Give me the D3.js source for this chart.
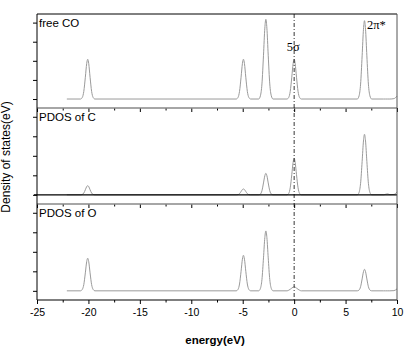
<!DOCTYPE html>
<html>
<head>
<meta charset="utf-8">
<script src="https://cdn.jsdelivr.net/npm/d3@7"></script>
<style>
  body { margin: 0; background: #fff; }
  svg { display: block; font-family: "Liberation Sans", Arial, sans-serif; }
</style>
</head>
<body>
<div id="chart"></div>
<script>
// shared energy grid (eV)
const energy = [
  -22.1,
  -20.77, -20.6, -20.45, -20.3, -20.17, -20.07, -19.97, -19.84, -19.69, -19.54, -19.37,
  -5.63, -5.46, -5.31, -5.16, -5.03, -4.93, -4.83, -4.70, -4.55, -4.40, -4.23,
  -3.45, -3.28, -3.13, -2.98, -2.85, -2.75, -2.65, -2.52, -2.37, -2.22, -2.05,
  -0.7, -0.53, -0.38, -0.23, -0.1, 0, 0.1, 0.23, 0.38, 0.53, 0.7,
  6.14, 6.31, 6.46, 6.61, 6.74, 6.84, 6.94, 7.07, 7.22, 7.37, 7.54,
  8.7, 8.9, 9.1, 9.3, 9.7, 10
];

const freeCO = [
  0,
  0, .08, .40, 1.14, 1.85, 2.08, 1.85, 1.14, .40, .08, 0,
  0, .08, .40, 1.14, 1.85, 2.08, 1.85, 1.14, .40, .08, 0,
  0, .17, .79, 2.29, 3.71, 4.17, 3.71, 2.29, .79, .17, 0,
  0, .08, .40, 1.14, 1.85, 2.08, 1.85, 1.14, .40, .08, 0,
  0, .16, .78, 2.26, 3.65, 4.1, 3.65, 2.26, .78, .16, 0,
  0, 0, 0, 0, .02, .15
];

const pdosC = [
  0,
  0, .02, .09, .26, .42, .47, .42, .26, .09, .02, 0,
  0, .01, .06, .17, .27, .3, .27, .17, .06, .01, 0,
  0, .04, .21, .61, .98, 1.1, .98, .61, .21, .04, 0,
  0, .07, .36, 1.03, 1.66, 1.87, 1.66, 1.03, .36, .07, 0,
  0, .12, .59, 1.71, 2.76, 3.1, 2.76, 1.71, .59, .12, 0,
  0, .03, .05, .01, .02, .15
];

const pdosO = [
  0,
  0, .07, .32, .92, 1.49, 1.67, 1.49, .92, .32, .07, 0,
  0, .07, .35, 1.0, 1.62, 1.82, 1.62, 1.0, .35, .07, 0,
  0, .12, .58, 1.69, 2.73, 3.07, 2.73, 1.69, .58, .12, 0,
  0, .03, .08, .14, .19, .21, .19, .14, .08, .03, 0,
  0, .04, .21, .61, .98, 1.1, .98, .61, .21, .04, 0,
  0, 0, 0, 0, .01, .1
];

const panelNames = ["free CO", "PDOS of C", "PDOS of O"];
const xTicks = [-25, -20, -15, -10, -5, 0, 5, 10];
const xMinorTicks = [-22.5, -17.5, -12.5, -7.5, -2.5, 2.5, 7.5];
const yTicks = [0, 1, 2, 3, 4];

const W = 411, H = 351;
const left = 37, right = 397;
const panels = [
  { top: 14, bottom: 108, values: freeCO },
  { top: 108, bottom: 204, values: pdosC },
  { top: 204, bottom: 300, values: pdosO }
];

const svg = d3.select("#chart").append("svg")
  .attr("width", W)
  .attr("height", H);

const x = d3.scaleLinear().domain([-25, 10]).range([left, right]);

panels.forEach((p, i) => {
  const y = d3.scaleLinear().domain([-0.47, 4.45]).range([p.bottom, p.top]);
  const pts = energy.map((e, k) => [e, p.values[k]]);

  const line = d3.line()
    .x(d => x(d[0]))
    .y(d => y(d[1]))
    .curve(d3.curveMonotoneX);

  svg.append("path")
    .datum(pts)
    .attr("d", line)
    .attr("fill", "none")
    .attr("stroke", "#9a9a9a")
    .attr("stroke-width", 1);

  // left ticks
  svg.append("g")
    .attr("transform", `translate(${left},0)`)
    .call(d3.axisLeft(y).tickValues(yTicks).tickSize(4).tickFormat(""))
    .call(g => g.select(".domain").remove())
    .call(g => g.selectAll("line").attr("stroke", "#000"));

  // tick marks along the panel bottom
  const isLast = i === panels.length - 1;
  svg.append("g")
    .attr("transform", `translate(0,${p.bottom})`)
    .call(d3.axisBottom(x).tickValues(xTicks).tickSize(4).tickFormat(isLast ? d => d : ""))
    .call(g => g.select(".domain").remove())
    .call(g => g.selectAll("line").attr("stroke", "#000"))
    .call(g => g.selectAll("text")
      .attr("font-size", 10.5)
      .attr("font-family", "Liberation Sans, Arial, sans-serif")
      .attr("fill", "#000")
      .attr("dy", "0.85em"));

  svg.append("g")
    .attr("transform", `translate(0,${p.bottom})`)
    .call(d3.axisBottom(x).tickValues(xMinorTicks).tickSize(2.5).tickFormat(""))
    .call(g => g.select(".domain").remove())
    .call(g => g.selectAll("line").attr("stroke", "#000"));

  svg.append("text")
    .attr("x", left + 2)
    .attr("y", p.top + 13)
    .attr("font-size", 11.5)
    .attr("fill", "#000")
    .text(panelNames[i]);

  if (i === 1) {
    // black zero line of the C panel
    svg.append("line")
      .attr("x1", left - 3).attr("x2", right)
      .attr("y1", y(0)).attr("y2", y(0))
      .attr("stroke", "#000")
      .attr("stroke-width", 1.2);
  }
});

// separators between panels
[108, 204].forEach(yy => {
  svg.append("line")
    .attr("x1", left).attr("x2", right)
    .attr("y1", yy).attr("y2", yy)
    .attr("stroke", "#888")
    .attr("stroke-width", 1.5);
});

// outer frame
svg.append("line").attr("x1", left).attr("x2", right).attr("y1", 14).attr("y2", 14)
  .attr("stroke", "#000").attr("stroke-width", 1);
svg.append("line").attr("x1", left).attr("x2", right).attr("y1", 300).attr("y2", 300)
  .attr("stroke", "#000").attr("stroke-width", 1.2);
svg.append("line").attr("x1", left).attr("x2", left).attr("y1", 14).attr("y2", 300)
  .attr("stroke", "#000").attr("stroke-width", 1);
svg.append("line").attr("x1", right).attr("x2", right).attr("y1", 14).attr("y2", 300)
  .attr("stroke", "#555").attr("stroke-width", 1);

// Fermi level dash-dot line
svg.append("line")
  .attr("x1", x(0)).attr("x2", x(0))
  .attr("y1", 14).attr("y2", 300)
  .attr("stroke", "#000")
  .attr("stroke-width", 0.8)
  .attr("stroke-dasharray", "4,2,1,2");

// orbital annotations
svg.append("text")
  .attr("x", x(0) - 1)
  .attr("y", 51)
  .attr("text-anchor", "middle")
  .attr("font-family", "'Liberation Serif', 'Times New Roman', serif")
  .attr("font-size", 12.5)
  .text("5σ");

svg.append("text")
  .attr("x", 367)
  .attr("y", 29)
  .attr("font-family", "'Liberation Serif', 'Times New Roman', serif")
  .attr("font-size", 12.5)
  .text("2π*");

// axis titles
svg.append("text")
  .attr("x", 215)
  .attr("y", 344)
  .attr("text-anchor", "middle")
  .attr("font-size", 11.5)
  .attr("font-weight", "bold")
  .text("energy(eV)");

svg.append("text")
  .attr("transform", "translate(10,157) rotate(-90)")
  .attr("text-anchor", "middle")
  .attr("font-size", 12)
  .text("Density of states(eV)");
</script>
</body>
</html>
